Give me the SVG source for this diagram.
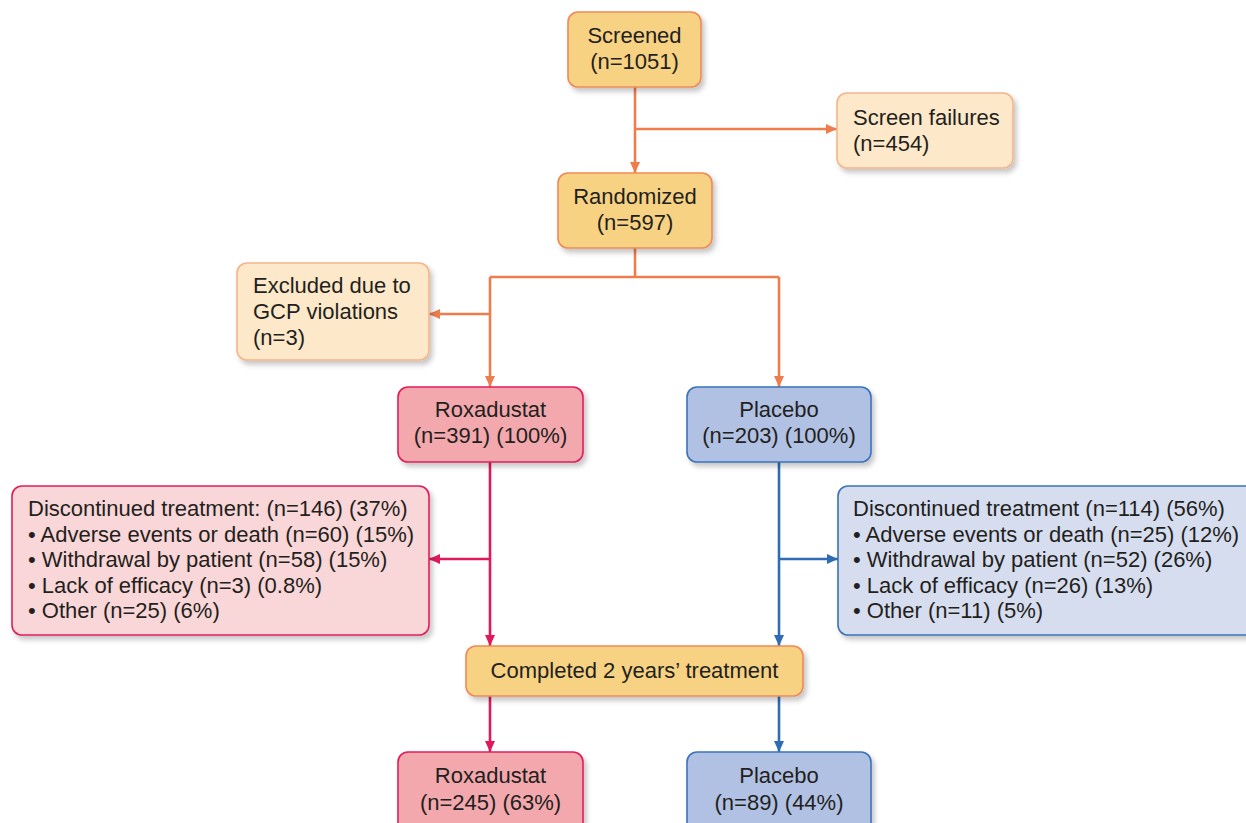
<svg xmlns="http://www.w3.org/2000/svg" width="1246" height="823" viewBox="0 0 1246 823">
<style>
text{font-family:"Liberation Sans",Arial,sans-serif;font-size:22px;fill:#231f20}
.c{text-anchor:middle}
.box{stroke-width:1.6}
.or{fill:#f8d283;stroke:#ee8a5a}
.lo{fill:#fde9c9;stroke:#f5b58a}
.rd{fill:#f2a8ac;stroke:#df1f5c}
.lr{fill:#f9d6d7;stroke:#df1f5c}
.bl{fill:#b0c1e3;stroke:#3b73b9}
.lb{fill:#d6ddef;stroke:#3b73b9}
.ln{fill:none;stroke-width:2.6}
.lo2{stroke:#ee7d4e}
.lr2{stroke:#e0195b}
.lb2{stroke:#2e6db5}
</style>
<defs>
<filter id="sh" x="-10%" y="-10%" width="130%" height="140%">
<feDropShadow dx="3" dy="4" stdDeviation="2.5" flood-color="#000" flood-opacity="0.22"/>
</filter>
<marker id="ao" markerUnits="userSpaceOnUse" markerWidth="12" markerHeight="12" viewBox="0 0 12 12" refX="11" refY="6" orient="auto"><path d="M0,1 L11,6 L0,11 z" fill="#ee7d4e"/></marker>
<marker id="ar" markerUnits="userSpaceOnUse" markerWidth="12" markerHeight="12" viewBox="0 0 12 12" refX="11" refY="6" orient="auto"><path d="M0,1 L11,6 L0,11 z" fill="#e0195b"/></marker>
<marker id="ab" markerUnits="userSpaceOnUse" markerWidth="12" markerHeight="12" viewBox="0 0 12 12" refX="11" refY="6" orient="auto"><path d="M0,1 L11,6 L0,11 z" fill="#2e6db5"/></marker>
</defs>
<rect width="1246" height="823" fill="#fff"/>

<g id="connectors">
<path class="ln lo2" d="M635,87 V173" marker-end="url(#ao)"/>
<path class="ln lo2" d="M635,129 H837" marker-end="url(#ao)"/>
<path class="ln lo2" d="M635,248 V277 M490,277 H779"/>
<path class="ln lo2" d="M490,277 V387" marker-end="url(#ao)"/>
<path class="ln lo2" d="M779,277 V387" marker-end="url(#ao)"/>
<path class="ln lo2" d="M490,314 H429" marker-end="url(#ao)"/>
<path class="ln lr2" d="M490,462 V646" marker-end="url(#ar)"/>
<path class="ln lr2" d="M490,559 H429" marker-end="url(#ar)"/>
<path class="ln lr2" d="M490,696 V752" marker-end="url(#ar)"/>
<path class="ln lb2" d="M779,462 V646" marker-end="url(#ab)"/>
<path class="ln lb2" d="M779,559 H838" marker-end="url(#ab)"/>
<path class="ln lb2" d="M779,696 V752" marker-end="url(#ab)"/>
</g>

<g id="screened">
<rect class="box or" x="568" y="12" width="133" height="75" rx="10" filter="url(#sh)"/>
<text class="c" x="634.5" y="43">Screened</text>
<text class="c" x="634.5" y="69">(n=1051)</text>
</g>

<g id="screen-failures">
<rect class="box lo" x="837" y="93" width="176" height="75" rx="10" filter="url(#sh)"/>
<text x="853" y="125">Screen failures</text>
<text x="853" y="151">(n=454)</text>
</g>

<g id="randomized">
<rect class="box or" x="558" y="173" width="154" height="75" rx="10" filter="url(#sh)"/>
<text class="c" x="635" y="204">Randomized</text>
<text class="c" x="635" y="230">(n=597)</text>
</g>

<g id="excluded">
<rect class="box lo" x="237" y="263" width="192" height="97" rx="10" filter="url(#sh)"/>
<text x="253" y="293">Excluded due to</text>
<text x="253" y="319">GCP violations</text>
<text x="253" y="345">(n=3)</text>
</g>

<g id="roxadustat">
<rect class="box rd" x="398" y="387" width="185" height="75" rx="10" filter="url(#sh)"/>
<text class="c" x="490.5" y="417">Roxadustat</text>
<text class="c" x="490.5" y="443">(n=391) (100%)</text>
</g>

<g id="placebo">
<rect class="box bl" x="687" y="387" width="184" height="75" rx="10" filter="url(#sh)"/>
<text class="c" x="779" y="417">Placebo</text>
<text class="c" x="779" y="443">(n=203) (100%)</text>
</g>

<g id="discontinued-roxadustat">
<rect class="box lr" x="12" y="486" width="417" height="149" rx="10" filter="url(#sh)"/>
<text x="28" y="516">Discontinued treatment: (n=146) (37%)</text>
<text x="28" y="541.5">• Adverse events or death (n=60) (15%)</text>
<text x="28" y="567">• Withdrawal by patient (n=58) (15%)</text>
<text x="28" y="592.5">• Lack of efficacy (n=3) (0.8%)</text>
<text x="28" y="618">• Other (n=25) (6%)</text>
</g>

<g id="discontinued-placebo">
<rect class="box lb" x="838" y="486" width="420" height="149" rx="10" filter="url(#sh)"/>
<text x="853" y="516">Discontinued treatment (n=114) (56%)</text>
<text x="853" y="541.5">• Adverse events or death (n=25) (12%)</text>
<text x="853" y="567">• Withdrawal by patient (n=52) (26%)</text>
<text x="853" y="592.5">• Lack of efficacy (n=26) (13%)</text>
<text x="853" y="618">• Other (n=11) (5%)</text>
</g>

<g id="completed">
<rect class="box or" x="466" y="646" width="337" height="50" rx="10" filter="url(#sh)"/>
<text class="c" x="634.5" y="678">Completed 2 years’ treatment</text>
</g>

<g id="roxadustat-completed">
<rect class="box rd" x="398" y="752" width="185" height="85" rx="10" filter="url(#sh)"/>
<text class="c" x="490.5" y="783">Roxadustat</text>
<text class="c" x="490.5" y="810">(n=245) (63%)</text>
</g>

<g id="placebo-completed">
<rect class="box bl" x="687" y="752" width="184" height="85" rx="10" filter="url(#sh)"/>
<text class="c" x="779" y="783">Placebo</text>
<text class="c" x="779" y="810">(n=89) (44%)</text>
</g>
</svg>
